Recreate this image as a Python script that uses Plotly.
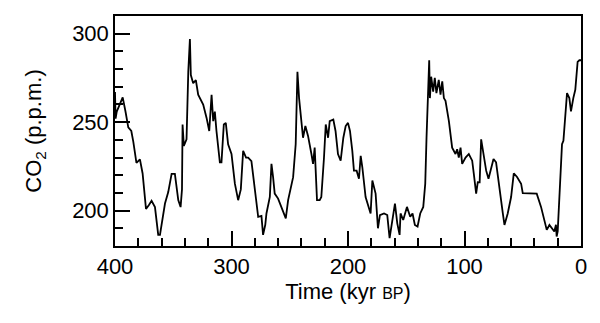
import plotly.graph_objects as go

# Vostok ice core CO2 record
time_kyr = [400, 399.5, 398.5, 396, 393.4, 391, 388.6, 386, 384.3, 381.6, 378.6, 376.3, 373.4, 371,
            368.6, 365.7, 362.9, 361.4, 359, 357.1, 354.3, 351.4, 348.6, 345.7, 343.7, 342.5, 342,
            340.9, 338.6, 337.1, 335.7, 334.9, 332.9, 330.6, 328.6, 324.3, 321.4, 319.1, 317.1,
            315.7, 314.3, 312.9, 310, 308.6, 306.6, 304.9, 302.9, 300, 297.1, 294.3, 292, 290,
            287.5, 285.7, 282.9, 280, 277.1, 274.3, 272.9, 271, 270, 267.1, 265.7, 264.3, 262.9, 260,
            257.1, 253.4, 251.4, 248.6, 247.1, 244.9, 243.4, 242, 240, 238.6, 236.6, 234.3, 231.4,
            230, 228.6, 226.6, 224.3, 222.9, 220.6, 219.1, 217.1, 215.7, 212.6, 210.7, 208.6, 206.3,
            204, 202, 200, 198.3, 196.3, 194.9, 192.6, 190.6, 189.1, 187.7, 184.9, 180.6, 179.1,
            176.3, 174.3, 172.6, 169.1, 166.3, 164.3, 162, 159.7, 157.7, 155.7, 154.9, 152.6, 149.4,
            146.6, 144.6, 142.6, 140.3, 138, 135.4, 133.7, 132.6, 131.7, 130.3, 129.7, 128.6, 126.9,
            125.5, 124.1, 122.1, 120.6, 119.1, 117.7, 116.3, 113.4, 110.6, 107.7, 106.3, 104.9,
            103.4, 102, 99.1, 96.3, 93.4, 92, 90, 88.6, 87, 85.7, 83.7, 81.4, 79.4, 77.1, 75.1, 72.9,
            70, 67.1, 65.7, 62.9, 60, 57.7, 54.9, 51.4, 50, 44.3, 38, 34.3, 31.4, 29.4, 27.1, 24.9,
            22.9, 21.5, 20.9, 20, 18.6, 16.3, 15.1, 13.7, 12, 10, 8.6, 6.6, 4.9, 2.9, 1.4, 0]

co2_ppm = [267, 252, 256, 260, 264, 256, 247, 245, 239, 227, 229, 221, 201, 203,
           205.5, 202, 186.3, 186.3, 196, 204, 210.5, 220.8, 220.8, 206, 202, 212, 248.7,
           236.6, 240.3, 278.5, 297, 276.6, 272, 273.8, 265.5, 259.9, 252.4, 245, 265.5,
           250.6, 256, 245, 227.3, 227.3, 248.7, 249.6, 237.5, 232, 215.2, 205.9, 212, 233.8,
           230, 230, 228, 213.3, 196.5, 197, 186.3, 192, 198.4, 207.7, 226.4, 218.9, 209.6, 206.8,
           202.1, 195.6, 205.9, 215.2, 218.9, 237.5, 278.5, 263.6, 250.6, 241.2, 247.8, 242.2, 232,
           226.4, 235.6, 205.9, 205.9, 207.7, 230, 248.7, 241.2, 250.6, 251.5, 245, 232, 228.2,
           241.2, 247.8, 249.6, 245, 233.8, 222.6, 222.6, 218, 231, 224.5, 207.7, 198.4, 217,
           209.6, 190, 197.5, 198.4, 197.5, 184.5, 194.7, 204, 192.8, 186.3, 198.4, 194.7, 202.1,
           196.5, 198.4, 191.9, 191, 198.4, 202.1, 215.2, 241.2, 263.6, 285, 263.6, 275.7, 267.3,
           275, 266.4, 273.9, 265.5, 273, 263.6, 262, 250.6, 235.6, 232, 234.7, 230,
           235.6, 226.4, 230, 232, 228.2, 220.8, 209.6, 216.1, 216, 240.3, 232, 222.6, 218, 224.5, 229.2, 227.3,
           211.5, 198.4, 191.9, 198.4, 207.7, 221.1, 219, 215.2, 209.9, 209.6, 209.6, 202.1, 194.7, 189.1, 191.9, 190,
           188.2, 192, 185.4, 188.2, 207.7, 237.5, 239.4, 250.6, 266.4, 263.6, 256.1, 263.6, 268.3, 284.1, 285, 285]

x_ticks = [400, 300, 200, 100, 0]
y_ticks = [200, 250, 300]

FONT = "Liberation Sans, Arial, Helvetica, sans-serif"

fig = go.Figure()
fig.add_trace(go.Scatter(x=time_kyr, y=co2_ppm, mode="lines",
                         line=dict(color="black", width=1.8), hoverinfo="x+y"))

fig.update_layout(
    width=592, height=315,
    margin=dict(l=107, r=19, t=6, b=77),
    paper_bgcolor="white", plot_bgcolor="white",
    showlegend=False,
    font=dict(family=FONT, color="black", size=22),
)
fig.update_xaxes(
    range=[400, 0], tickvals=x_ticks, ticktext=[str(v) for v in x_ticks],
    ticks="inside", ticklen=15, tickwidth=1.5, tickcolor="black",
    minor=dict(dtick=20, tick0=0, ticks="inside", ticklen=8, tickwidth=1.5, tickcolor="black"),
    showline=True, linecolor="black", linewidth=1.5, mirror=True,
    showgrid=False, zeroline=False,
    tickfont=dict(size=22, family=FONT),
    title=dict(text="Time (kyr <span style='font-size:16px'>BP</span>)",
               font=dict(size=22, family=FONT), standoff=2),
)
fig.update_yaxes(
    range=[180, 310], tickvals=y_ticks, ticktext=[str(v) for v in y_ticks],
    ticks="inside", ticklen=15, tickwidth=1.5, tickcolor="black",
    minor=dict(dtick=10, tick0=0, ticks="inside", ticklen=8, tickwidth=1.5, tickcolor="black"),
    showline=True, linecolor="black", linewidth=1.5, mirror=True,
    showgrid=False, zeroline=False,
    tickfont=dict(size=22, family=FONT),
    title=dict(text="CO<sub>2</sub> (p.p.m.)", font=dict(size=22, family=FONT), standoff=24),
)

fig.write_html("out.html")
